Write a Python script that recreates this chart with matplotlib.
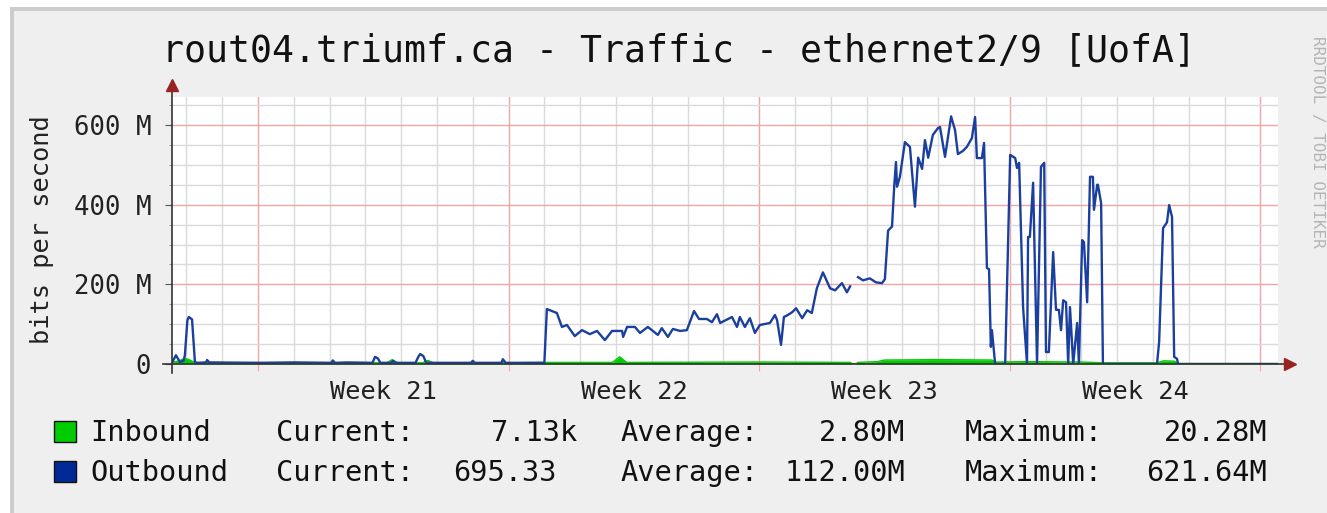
import numpy as np
import matplotlib.pyplot as plt
from matplotlib.patches import Rectangle
from matplotlib.ticker import MultipleLocator, FixedLocator
import matplotlib.transforms as mtransforms

W, H = 1327, 513

# outbound traffic (days since start of week 21, Mbit/s)
out_days = [-2.40, -2.29, -2.18, -2.08, -2.04, -1.97, -1.93, -1.84, -1.76, -1.70,
            -1.45, -1.42, -1.36, 0.0, 1.0, 2.05, 2.09, 2.15, 2.5, 3.2,
            3.27, 3.35, 3.42, 3.72, 3.77, 3.85, 4.40, 4.48, 4.53, 4.62,
            4.70, 5.5, 5.95, 6.0, 6.05, 6.8, 6.84, 6.92, 8.00,
            8.07, 8.35, 8.49, 8.63, 8.85, 9.05, 9.27, 9.47, 9.69, 9.89,
            10.17, 10.20, 10.31, 10.53, 10.67, 10.89, 11.17, 11.28, 11.45, 11.59,
            11.79, 11.98, 12.18, 12.32, 12.54, 12.68, 12.82, 12.91, 13.24, 13.38,
            13.46, 13.60, 13.74, 13.88, 14.02, 14.30, 14.44, 14.50, 14.61, 14.69,
            14.80, 14.92, 15.03, 15.20, 15.34, 15.47, 15.61, 15.78, 15.98, 16.12,
            16.31, 16.45, 16.54, 16.60, 16.76, 16.90, 17.09, 17.26, 17.43, 17.51,
            17.60, 17.71, 17.77, 17.82, 17.85, 17.93, 18.07, 18.21, 18.35, 18.44,
            18.55, 18.63, 18.72, 18.85, 18.99, 19.05, 19.19, 19.36, 19.47, 19.55,
            19.69, 19.80, 19.94, 20.03, 20.08, 20.22, 20.28, 20.36, 20.42, 20.47,
            20.50, 20.59, 20.87, 21.01, 21.15, 21.20, 21.26, 21.37, 21.48, 21.51,
            21.56, 21.65, 21.76, 21.87, 21.96, 22.01, 22.09, 22.21, 22.29, 22.37,
            22.43, 22.49, 22.57, 22.63, 22.68, 22.77, 22.88, 22.93, 23.02, 23.07,
            23.16, 23.24, 23.32, 23.35, 23.44, 23.46, 23.55, 23.60, 25.11, 25.17,
            25.28, 25.39, 25.45, 25.53, 25.59, 25.67, 25.70, 28.49]
out_vals = [3, 22, 5, 8, 22, 110, 118, 112, 5, 3,
            4, 10, 4, 3, 4, 3, 9, 3, 4, 3,
            18, 14, 3, 3, 8, 3, 3, 18, 25, 20,
            3, 3, 3, 8, 3, 3, 12, 3, 3,
            138, 128, 93, 98, 70, 85, 75, 83, 60, 83,
            83, 68, 93, 93, 78, 93, 73, 90, 68, 88,
            83, 85, 133, 113, 113, 105, 125, 103, 118, 93,
            118, 93, 115, 78, 98, 103, 123, 110, 48, 118,
            123, 130, 140, 115, 135, 128, 190, 230, 190, 185,
            203, 180, 195, np.nan, 218, 210, 215, 205, 203, 213,
            335, 345, 445, 507, 445, 470, 557, 545, 395, 518,
            490, 562, 518, 575, 592, 595, 520, 621.6, 587, 527,
            535, 545, 567, 620, 517, 517, 555, 241, 238, 43,
            85, 0, 0, 525, 517, 492, 505, 143, 0, 319,
            319, 455, 0, 495, 505, 30, 30, 281, 136, 136,
            85, 160, 155, 0, 143, 0, 103, 0, 311, 306,
            155, 470, 470, 387, 450, 450, 404, 0, 0, 55,
            341, 356, 399, 369, 18, 13, 0, 0]

# inbound traffic
in_days = [-2.40, -2.20, -2.05, -1.95, -1.75, 0.0, 3.6, 3.75, 3.9, 4.6,
           4.75, 4.9, 7.0, 8.0, 9.9, 10.1, 10.3, 14.0, 16.55, 16.6,
           16.7, 16.76, 17.3, 17.5, 19.0, 20.5, 20.6, 21.5, 23.0, 23.6,
           25.1, 25.3, 25.6, 25.7, 28.49]
in_vals = [4, 8, 14, 12, 3, 3, 3, 11, 3, 3,
           9, 3, 3, 4, 4, 18, 4, 5, 4, 0,
           0, 4, 6, 10, 11, 10, 5, 6, 5, 3,
           3, 8, 7, 1, 1]

y_ticks = [0, 200, 400, 600]
y_labels = ['0', '200 M', '400 M', '600 M']
weeks = ['Week 21', 'Week 22', 'Week 23', 'Week 24']
week_pos = [3.5, 10.5, 17.5, 24.5]

rows = [
    ('Inbound', '7.13k', '2.80M', '20.28M', '#00CC00'),
    ('Outbound', '695.33', '112.00M', '621.64M', '#002A97'),
]

mono = 'DejaVu Sans Mono'


def fx(x):
    return x / W


def fy(y):
    return 1 - y / H


fig = plt.figure(figsize=(W / 100, H / 100), dpi=100, facecolor='white')

# rrdtool style canvas with shaded frame
fig.add_artist(Rectangle((fx(10), 0), 1 - fx(10), fy(7), transform=fig.transFigure,
                         facecolor='#CCCCCC', edgecolor='none', zorder=-3))
fig.add_artist(Rectangle((fx(14), 0), 1 - fx(14), fy(11), transform=fig.transFigure,
                         facecolor='#EFEFEF', edgecolor='none', zorder=-2))

left, right, top, bottom = 172, 1278, 97, 364
ax = fig.add_axes([fx(left), fy(bottom), fx(right - left), (bottom - top) / H])
ax.set_facecolor('white')
ax.set_xlim(-2.40, 28.49)
ax.set_ylim(0, 670.3)

ax.fill_between(in_days, in_vals, color='#00CC00', lw=0, zorder=3)
ax.plot(in_days, in_vals, color='#00CC00', lw=1.0, zorder=3)
ax.plot(out_days, out_vals, color='#1A3F9E', lw=1.7, zorder=4)

ax.set_axisbelow(True)
ax.xaxis.set_major_locator(FixedLocator([0, 7, 14, 21, 28]))
ax.xaxis.set_minor_locator(MultipleLocator(1))
ax.set_yticks(y_ticks)
ax.set_yticklabels(y_labels, fontfamily=mono, fontsize=18.5, color='#222222')
ax.yaxis.set_minor_locator(MultipleLocator(50))
ax.set_xticklabels([])
ax.grid(which='minor', color='#DADADA', lw=1.0)
ax.grid(which='major', color='#F2A5A5', lw=1.0)
ax.tick_params(axis='x', which='major', length=5, color='#F2A5A5', direction='out')
ax.tick_params(axis='x', which='minor', length=0)
ax.tick_params(axis='y', which='major', length=5, color='#555555', pad=10)
ax.tick_params(axis='y', which='minor', length=2, color='#888888')
for s in ax.spines.values():
    s.set_visible(False)

# axis lines with arrow heads
ax.plot([0, 0], [-9 / 267, 1.045], transform=ax.transAxes, color='#333333', lw=1.2,
        clip_on=False, zorder=5)
ax.plot([-9 / 1106, 1.008], [0, 0], transform=ax.transAxes, color='#333333', lw=1.2,
        clip_on=False, zorder=5)
ax.plot([0], [1.045], marker='^', ms=8, color='#992222', transform=ax.transAxes,
        clip_on=False, zorder=6)
ax.plot([1.011], [0], marker='>', ms=8, color='#992222', transform=ax.transAxes,
        clip_on=False, zorder=6)

trans = mtransforms.blended_transform_factory(ax.transData, ax.transAxes)
for pos, lab in zip(week_pos, weeks):
    ax.text(pos, -(399 - bottom) / (bottom - top), lab, transform=trans, ha='center',
            va='baseline', fontfamily=mono, fontsize=18.3, color='#222222')

fig.text(fx(679.5), fy(51), 'rout04.triumf.ca - Traffic - ethernet2/9 [UofA]',
         ha='center', va='center', fontfamily=mono, fontsize=26.3, color='#111111')
fig.text(fx(42), fy(230), 'bits per second', rotation=90, ha='center', va='center',
         fontfamily=mono, fontsize=18.3, color='#222222')
fig.text(fx(1318), fy(142), 'RRDTOOL / TOBI OETIKER', rotation=270, ha='center',
         va='center', fontfamily=mono, fontsize=11.5, color='#B5B5B5')

# legend rows
baselines = [441, 481]
for (name, cur, avg, mx, col), yb in zip(rows, baselines):
    fig.add_artist(Rectangle((fx(54), fy(yb + 1)), fx(22), 21 / H, transform=fig.transFigure,
                             facecolor=col, edgecolor='#111111', lw=1.0))
    kw = dict(va='baseline', fontfamily=mono, fontsize=20.6, color='#111111')
    fig.text(fx(90), fy(yb), name, ha='left', **kw)
    fig.text(fx(276), fy(yb), 'Current:', ha='left', **kw)
    fig.text(fx(577 if cur.endswith('k') else 557), fy(yb), cur, ha='right', **kw)
    fig.text(fx(620), fy(yb), 'Average:', ha='left', **kw)
    fig.text(fx(905), fy(yb), avg, ha='right', **kw)
    fig.text(fx(965), fy(yb), 'Maximum:', ha='left', **kw)
    fig.text(fx(1267), fy(yb), mx, ha='right', **kw)

fig.savefig('out.png', dpi=100, facecolor=fig.get_facecolor())
